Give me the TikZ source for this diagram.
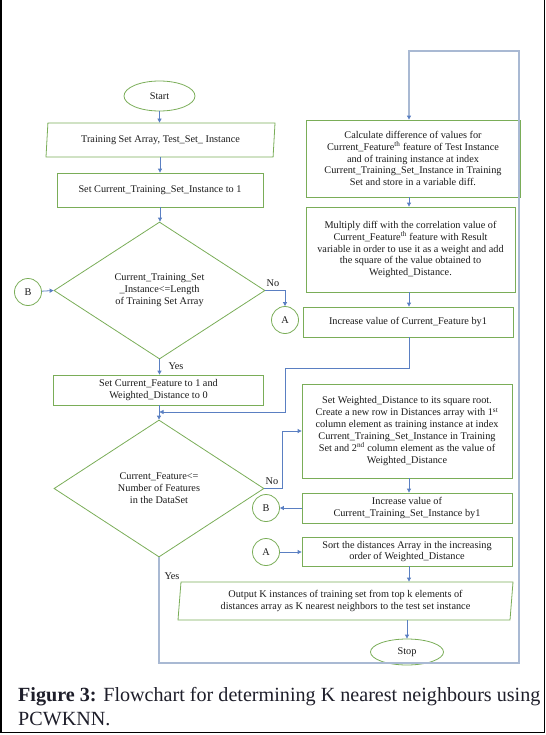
\documentclass[tikz,border=0pt]{standalone}
\usepackage{fontspec}
\setmainfont{Liberation Serif}
\usetikzlibrary{shapes.geometric,arrows.meta}
\definecolor{gbox}{HTML}{7AAD58}
\definecolor{conn}{HTML}{5A7FC2}
\definecolor{loopc}{HTML}{A9B9D3}
\definecolor{captc}{HTML}{1E1E2A}
\definecolor{txtc}{HTML}{1A1A1A}
\begin{document}
\begin{tikzpicture}[x=1bp,y=-1bp,
  txt/.style={font=\fontsize{10.3}{11.9}\selectfont, align=center, text=txtc},
  pbox/.style 2 args={txt, draw=gbox, line width=0.8bp, rectangle, inner sep=0pt,
     minimum width=#1bp, minimum height=#2bp},
  term/.style 2 args={txt, draw=gbox, line width=0.8bp, ellipse, inner sep=0pt,
     minimum width=#1bp, minimum height=#2bp},
  conncirc/.style={txt, draw=gbox, line width=0.8bp, circle, inner sep=0pt, minimum size=27bp},
  dia/.style={txt, draw=gbox, line width=0.8bp, diamond, aspect=1.54, inner sep=0pt,
     minimum width=211bp, minimum height=137bp},
  io/.style n args={3}{txt, draw=gbox, line width=0.8bp, trapezium,
     trapezium left angle=#1, trapezium right angle=180-#1, trapezium stretches body,
     inner sep=0pt, minimum width=#2bp, minimum height=#3bp},
  arr/.style={draw=conn, line width=0.8bp, -{Triangle[length=4bp,width=4bp]}},
  loopl/.style={draw=loopc, line width=1.2bp, -{Triangle[length=4bp,width=4bp,color=conn]}},
  lbl/.style={txt},
  capt/.style={anchor=base west, font=\fontsize{20.2}{21}\selectfont, text=captc, inner sep=0pt}
]
\useasboundingbox (0,0) rectangle (546,735);
% outer frame
\draw[black, line width=1.6bp] (0.8,0) -- (0.8,732.5) -- (544.5,732.5) -- (544.5,0);

% left column
\node[term={71}{30}] (start) at (159.5,96) {Start};
\node[io={78}{229}{34}] (para1) at (160.5,140) {Training Set Array, Test\_Set\_ Instance};
\node[pbox={206}{34}] (rect1) at (160,190) {Set Current\_Training\_Set\_Instance to 1};
\node[dia] (dia1) at (159.5,290.5) {Current\_Training\_Set\\\_Instance<=Length\\of Training Set Array};
\node[conncirc] (B1) at (28,292) {B};
\node[conncirc] (A1) at (285,320) {A};
\node[pbox={210}{30}] (rect2) at (158.5,390) {Set Current\_Feature to 1 and\\Weighted\_Distance to 0};
\node[dia, minimum width=210bp] (dia2) at (159,488.5) {Current\_Feature<=\\Number of Features\\in the DataSet};

% right column
\coordinate (rc) at (409,0);
\node[pbox={214}{77}] (calc) at (413,158.5) {Calculate difference of values for\\Current\_Feature\textsuperscript{th} feature of Test Instance\\and of training instance at index\\Current\_Training\_Set\_Instance in Training\\Set and store in a variable diff.};
\node[pbox={209}{85}] (mult) at (410.5,249.5) {Multiply diff with the correlation value of\\Current\_Feature\textsuperscript{th} feature with Result\\variable in order to use it as a weight and add\\the square of the value obtained to\\Weighted\_Distance.};
\node[pbox={210}{30}] (inc1) at (408,322) {Increase value of Current\_Feature by1};
\node[pbox={210}{94}] (setw) at (407,431) {Set Weighted\_Distance to its square root.\\Create a new row in Distances array with 1\textsuperscript{st}\\column element as training instance at index\\Current\_Training\_Set\_Instance in Training\\Set and 2\textsuperscript{nd} column element as the value of\\Weighted\_Distance};
\node[pbox={210}{30}] (inc2) at (407,508) {Increase value of\\Current\_Training\_Set\_Instance by1};
\node[conncirc] (B2) at (266,508) {B};
\node[conncirc] (A2) at (266,552) {A};
\node[pbox={210}{29}] (sort) at (407,551.5) {Sort the distances Array in the increasing\\order of Weighted\_Distance};
\node[io={82}{335}{38}] (outp) at (345.5,601) {Output K instances of training set from top k elements of\\distances array as K nearest neighbors to the test set instance};
\node[term={73}{26}] (stop) at (407,652) {Stop};

% labels
\node[lbl] (no1) at (273,283) {No};
\node[lbl] (yes1) at (176,366) {Yes};
\node[lbl] (no2) at (272,481) {No};
\node[lbl] (yes2) at (172,576) {Yes};

% connectors
\draw[arr] (start.south) -- (start.south |- para1.north);
\draw[arr] (para1.south -| rect1.north) -- (rect1.north);
\draw[arr] (rect1.south) -- (rect1.south |- dia1.north);
\draw[arr] (B1) -- (dia1.west);
\draw[arr] (dia1.east) -| (A1.north);
\draw[arr] (dia1.south) -- (dia1.south |- rect2.north);
\draw[arr] (rect2.south -| dia2.north) -- (dia2.north);
\coordinate (j1) at (285,368);
\coordinate (mrg) at (159.5,412);
\draw[arr] (inc1.south -| rc) |- (j1) |- (mrg);
\coordinate (nx) at (282,431);
\draw[arr] (dia2.east) -| (nx) -- (setw.west);
\draw[arr] (calc.south -| rc) -- (mult.north -| rc);
\draw[arr] (mult.south -| rc) -- (inc1.north -| rc);
\draw[arr] (setw.south -| rc) -- (inc2.north -| rc);
\draw[arr] (inc2.west) -- (B2.east);
\draw[arr] (A2.east) -- (A2.east -| sort.west);
\draw[arr] (sort.south -| rc) -- (outp.north -| rc);
\draw[arr] (outp.south -| stop.north) -- (stop.north);
\coordinate (lb) at (519,663);
\coordinate (lt) at (519,51);
\draw[loopl] (dia2.south) |- (lb) -- (lt) -| (calc.north -| rc);

% caption
\node[capt] (cap1) at (18,701) {\textbf{Figure 3:} Flowchart for determining K nearest neighbours using};
\node[capt] (cap2) at (18,725) {PCWKNN.};
\end{tikzpicture}
\end{document}
